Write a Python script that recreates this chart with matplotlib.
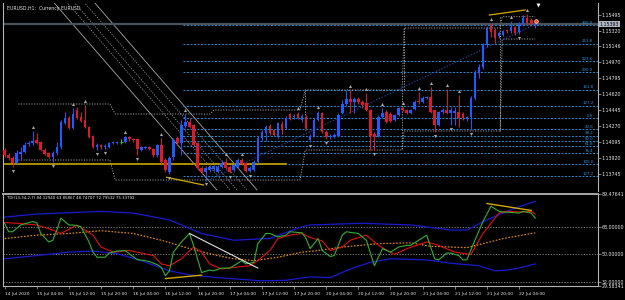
import matplotlib
matplotlib.use("Agg")
import matplotlib.pyplot as plt

# ---- EURUSD H1 candles (bar 0 = 14 Jul 2020 20:00) ----
opens = [
    1.14007, 1.13952, 1.13919, 1.13864, 1.13963, 1.13985, 1.14073, 1.14084, 1.14117, 1.14095,
    1.14007, 1.13974, 1.13930, 1.13974, 1.14040, 1.14304, 1.14359, 1.14249, 1.14447, 1.14370,
    1.14337, 1.14260, 1.14161, 1.14040, 1.14062, 1.14040, 1.14040, 1.14084, 1.14084, 1.14095,
    1.14095, 1.14150, 1.14128, 1.14128, 1.14007, 1.14029, 1.14040, 1.14018, 1.13952, 1.14062,
    1.13897, 1.13765, 1.13930, 1.14139, 1.14084, 1.14271, 1.14315, 1.14282, 1.14084, 1.13809,
    1.13765, 1.13787, 1.13798, 1.13765, 1.13820, 1.13875, 1.13820, 1.13787, 1.13820, 1.13897,
    1.13864, 1.13776, 1.13787, 1.13875, 1.14139, 1.14194, 1.14271, 1.14227, 1.14150, 1.14293,
    1.14249, 1.14403, 1.14370, 1.14403, 1.14337, 1.14370, 1.14117, 1.14161, 1.14337, 1.14414,
    1.14205, 1.14150, 1.14150, 1.14161, 1.14414, 1.14513, 1.14568, 1.14535, 1.14568, 1.14535,
    1.14524, 1.14447, 1.14183, 1.14161, 1.14370, 1.14425, 1.14403, 1.14337, 1.14392, 1.14469,
    1.14447, 1.14414, 1.14458, 1.14546, 1.14535, 1.14579, 1.14590, 1.14447, 1.14282, 1.14425,
    1.14447, 1.14414, 1.14414, 1.14425, 1.14403, 1.14348, 1.14370, 1.14579, 1.14865, 1.14920,
    1.15162, 1.15382, 1.15327, 1.15261, 1.15272, 1.15327, 1.15316, 1.15360, 1.15305, 1.15393,
    1.15459, 1.15437, 1.15382]
highs = [
    1.14029, 1.13974, 1.13941, 1.14007, 1.14040, 1.14095, 1.14106, 1.14216, 1.14194, 1.14106,
    1.14029, 1.13985, 1.13996, 1.14095, 1.14337, 1.14425, 1.14381, 1.14469, 1.14480, 1.14425,
    1.14502, 1.14271, 1.14172, 1.14084, 1.14073, 1.14073, 1.14095, 1.14106, 1.14106, 1.14128,
    1.14161, 1.14161, 1.14139, 1.14139, 1.14051, 1.14051, 1.14051, 1.14029, 1.14073, 1.14139,
    1.13919, 1.13941, 1.14139, 1.14161, 1.14337, 1.14403, 1.14359, 1.14293, 1.14095, 1.13831,
    1.13831, 1.13842, 1.13842, 1.13842, 1.13897, 1.13919, 1.13842, 1.13864, 1.13919, 1.13919,
    1.13875, 1.13831, 1.13897, 1.14161, 1.14227, 1.14282, 1.14293, 1.14238, 1.14315, 1.14326,
    1.14381, 1.14414, 1.14403, 1.14425, 1.14403, 1.14392, 1.14183, 1.14359, 1.14436, 1.14425,
    1.14227, 1.14183, 1.14194, 1.14414, 1.14557, 1.14667, 1.14667, 1.14590, 1.14590, 1.14557,
    1.14634, 1.14458, 1.14205, 1.14392, 1.14469, 1.14447, 1.14425, 1.14403, 1.14480, 1.14480,
    1.14458, 1.14458, 1.14557, 1.14645, 1.14601, 1.14601, 1.14700, 1.14458, 1.14436, 1.14469,
    1.14678, 1.14480, 1.14480, 1.14612, 1.14425, 1.14381, 1.14601, 1.14887, 1.14953, 1.15184,
    1.15371, 1.15404, 1.15349, 1.15316, 1.15327, 1.15338, 1.15426, 1.15371, 1.15415, 1.15492,
    1.15503, 1.15459, 1.15437]
lows = [
    1.13930, 1.13897, 1.13820, 1.13853, 1.13897, 1.13974, 1.14051, 1.14062, 1.14073, 1.13996,
    1.13952, 1.13919, 1.13875, 1.13952, 1.14018, 1.14293, 1.14238, 1.14238, 1.14348, 1.14315,
    1.14249, 1.14139, 1.14029, 1.14007, 1.14018, 1.14018, 1.14029, 1.14073, 1.14073, 1.14073,
    1.14084, 1.14106, 1.14095, 1.13952, 1.13996, 1.14018, 1.14007, 1.13930, 1.13930, 1.13853,
    1.13765, 1.13743, 1.13897, 1.14062, 1.13952, 1.14249, 1.14249, 1.14051, 1.13787, 1.13743,
    1.13677, 1.13765, 1.13776, 1.13754, 1.13809, 1.13787, 1.13754, 1.13765, 1.13809, 1.13842,
    1.13765, 1.13765, 1.13776, 1.13864, 1.14106, 1.14106, 1.14172, 1.14161, 1.14139, 1.14183,
    1.14238, 1.14337, 1.14348, 1.14348, 1.14315, 1.14227, 1.14095, 1.14150, 1.14326, 1.14194,
    1.14128, 1.14128, 1.14139, 1.14150, 1.14403, 1.14491, 1.14414, 1.14414, 1.14513, 1.14469,
    1.14436, 1.14007, 1.14007, 1.14150, 1.14359, 1.14304, 1.14315, 1.14326, 1.14381, 1.14436,
    1.14403, 1.14403, 1.14447, 1.14513, 1.14524, 1.14568, 1.14414, 1.14205, 1.14271, 1.14403,
    1.14403, 1.14282, 1.14282, 1.14260, 1.14337, 1.14326, 1.14227, 1.14557, 1.14799, 1.14898,
    1.15140, 1.15250, 1.15184, 1.15239, 1.15261, 1.15294, 1.15294, 1.15272, 1.15283, 1.15371,
    1.15393, 1.15382, 1.15349]
closes = [
    1.13952, 1.13919, 1.13864, 1.13974, 1.13985, 1.14062, 1.14084, 1.14106, 1.14084, 1.14007,
    1.13963, 1.13930, 1.13974, 1.14040, 1.14315, 1.14359, 1.14249, 1.14403, 1.14359, 1.14326,
    1.14260, 1.14150, 1.14040, 1.14062, 1.14040, 1.14051, 1.14084, 1.14095, 1.14095, 1.14095,
    1.14150, 1.14128, 1.14117, 1.14018, 1.14040, 1.14040, 1.14018, 1.13952, 1.14062, 1.13875,
    1.13787, 1.13919, 1.14117, 1.14084, 1.14282, 1.14315, 1.14260, 1.14062, 1.13809, 1.13765,
    1.13809, 1.13820, 1.13831, 1.13820, 1.13864, 1.13809, 1.13765, 1.13842, 1.13897, 1.13853,
    1.13776, 1.13809, 1.13875, 1.14139, 1.14205, 1.14260, 1.14194, 1.14172, 1.14304, 1.14227,
    1.14359, 1.14359, 1.14381, 1.14359, 1.14381, 1.14249, 1.14161, 1.14337, 1.14414, 1.14205,
    1.14150, 1.14161, 1.14172, 1.14392, 1.14513, 1.14568, 1.14535, 1.14568, 1.14535, 1.14502,
    1.14447, 1.14161, 1.14150, 1.14370, 1.14414, 1.14315, 1.14326, 1.14392, 1.14469, 1.14447,
    1.14414, 1.14447, 1.14535, 1.14535, 1.14579, 1.14590, 1.14425, 1.14282, 1.14425, 1.14447,
    1.14414, 1.14447, 1.14436, 1.14359, 1.14359, 1.14370, 1.14579, 1.14865, 1.14920, 1.15162,
    1.15349, 1.15305, 1.15239, 1.15294, 1.15316, 1.15316, 1.15360, 1.15294, 1.15404, 1.15459,
    1.15404, 1.15393, 1.15393]

bid = 1.15393

# fractal bars
up_fractals = [7, 17, 20, 30, 39, 45, 55, 59, 73, 78, 86, 90, 94, 99, 103, 106, 110, 113, 121, 126, 130]
down_fractals = [2, 12, 23, 25, 33, 41, 50, 56, 61, 76, 80, 92, 107, 111, 116, 128]

# fibonacci levels
fib_labels = ["300.0", "261.8", "223.6", "200.0", "161.8", "127.2", "0.0", "23.6",
              "38.2", "50.0", "61.8", "76.4", "100.0", "127.2"]
fib_prices = [1.15382, 1.15177, 1.14986, 1.14865, 1.14671, 1.14496, 1.14359, 1.14239,
              1.14165, 1.14106, 1.14047, 1.13973, 1.13853, 1.13716]
fib_start = 44.4

# parallel channel lines (bar, price) anchors
channel_solid = [[(11.7, 1.15657), (52.8, 1.13567)], [(21.8, 1.15657), (62.8, 1.13567)]]
channel_dotted = [[(15.0, 1.15657), (56.1, 1.13567)], [(16.8, 1.15657), (57.8, 1.13567)],
                  [(19.3, 1.15657), (60.3, 1.13567)]]

# zigzag box edges
box_top_x = [3.4, 26.2, 27.5, 51.1, 52.1, 73.5, 74.8, 98.9, 99.4, 123.3, 123.8, 132.0]
box_top_p = [1.14513, 1.14513, 1.14403, 1.14403, 1.14447, 1.14447, 1.14667, 1.14667,
             1.15349, 1.15349, 1.15473, 1.15473]
box_bot_x = [3.4, 26.2, 27.5, 73.5, 74.8, 98.9, 99.4, 123.3, 123.8, 132.0]
box_bot_p = [1.13897, 1.13897, 1.13677, 1.13677, 1.14007, 1.14007, 1.14216, 1.14216,
             1.15228, 1.15228]

support_price = 1.13850
fib_trend = [(50, 1.13662), (132, 1.15389)]
low_div = [(40.3, 1.13707), (49.5, 1.13622)]
high_div = [(120.6, 1.15492), (129.5, 1.15547)]

price_ticks = [1.15495, 1.15320, 1.15146, 1.14970, 1.14795, 1.14620, 1.14445,
               1.14270, 1.14095, 1.13920, 1.13745]

# ---- TDI (13,34,2,7) ----
green_x = [0, 1, 2, 4, 7, 8, 9, 11, 12, 13, 14, 16, 17, 19, 21, 22, 23, 25, 26, 28, 30, 31, 33, 35,
           36, 38, 39, 40, 41, 42, 44, 46, 47, 49, 51, 52, 54, 56, 57, 59, 60, 62, 63, 65, 66, 68,
           70, 71, 74, 75, 76, 78, 79, 81, 82, 84, 85, 88, 90, 92, 94, 96, 98, 100, 101, 103, 105,
           107, 108, 110, 111, 113, 114, 115, 117, 119, 121, 123, 124, 126, 128, 129, 131, 132]
green_v = [70.2, 64.7, 64.7, 69.1, 71.3, 70.6, 63.6, 58.1, 59.2, 65.8, 73.5, 69.1, 69.1, 68.0,
           58.1, 51.5, 48.2, 48.2, 50.9, 52.2, 52.6, 50.5, 46.7, 46.0, 45.4, 43.4, 41.6, 36.2,
           39.4, 51.5, 58.1, 63.6, 55.9, 38.3, 39.9, 39.4, 41.2, 41.2, 42.7, 46.0, 43.9, 44.9,
           57.0, 63.6, 63.6, 61.4, 62.5, 64.7, 64.0, 60.3, 53.8, 60.3, 52.6, 48.7, 49.3, 62.5,
           64.7, 63.6, 59.2, 42.7, 53.8, 51.5, 54.8, 55.9, 55.9, 59.2, 62.5, 47.2, 46.5, 50.9,
           50.9, 49.3, 46.5, 46.5, 59.2, 71.3, 81.2, 77.9, 77.5, 77.2, 76.8, 77.9, 76.8, 73.5]
red_x = [0, 3, 8, 12, 14, 18, 22, 24, 27, 31, 33, 37, 39, 41, 44, 47, 49, 51, 54, 57, 61, 63, 66,
         68, 71, 74, 76, 79, 81, 84, 86, 90, 93, 97, 100, 105, 108, 112, 116, 119, 123, 125, 129,
         131, 132]
red_v = [70.6, 70.2, 69.1, 65.8, 63.6, 69.1, 62.5, 54.8, 51.5, 52.6, 51.5, 49.3, 43.9, 42.7,
         47.2, 54.8, 51.5, 43.9, 40.6, 41.6, 42.7, 46.0, 52.6, 60.3, 62.5, 63.6, 61.0, 58.8,
         52.6, 54.8, 59.2, 62.5, 55.9, 50.0, 53.7, 58.1, 55.9, 51.5, 50.0, 63.6, 76.8, 77.9,
         77.5, 77.9, 76.2]
base_x = [0, 8, 16, 24, 32, 39, 46, 53, 57, 62, 68, 74, 77, 84, 93, 101, 106, 115, 119, 124, 132]
base_v = [60.3, 62.5, 63.6, 65.4, 63.6, 59.2, 53.8, 49.3, 47.2, 46.0, 48.2, 51.5, 52.2, 54.8,
          57.0, 57.5, 55.3, 54.4, 57.0, 60.3, 64.0]
upper_x = [0, 8, 24, 32, 41, 49, 57, 66, 74, 76, 89, 101, 111, 115, 120, 126, 132]
upper_v = [74.2, 76.2, 77.9, 76.8, 72.4, 63.6, 59.2, 60.4, 68.0, 69.1, 70.2, 69.1, 65.8, 65.8,
           72.4, 79.0, 84.5]
lower_x = [0, 8, 16, 22, 28, 34, 41, 46, 53, 64, 70, 76, 81, 86, 91, 96, 105, 111, 118, 122,
           125, 128, 132]
lower_v = [47.2, 49.3, 51.5, 52.2, 50.5, 46.0, 39.4, 36.8, 35.0, 32.9, 33.3, 35.5, 35.0, 40.6,
           44.9, 47.2, 46.5, 44.3, 42.7, 39.4, 39.9, 41.2, 43.9]
tdi_white = [(46, 63.6), (63, 41.2)]
tdi_yellow = [[(40, 34.4), (49, 36.6)], [(120, 83.0), (131, 78.5)]]
tdi_levels = [68, 50, 32]
tdi_ticks = [89.47641, 68.0, 50.0, 32.0, 29.58341]
tdi_tick_labels = ["89.47641", "68.00000", "50.00000", "32.00000", "29.58341"]

date_pos = list(range(0, 129, 8))
date_labels = ["14 Jul 2020", "15 Jul 04:00", "15 Jul 12:00", "15 Jul 20:00", "16 Jul 04:00",
               "16 Jul 12:00", "16 Jul 20:00", "17 Jul 04:00", "17 Jul 12:00", "17 Jul 20:00",
               "20 Jul 04:00", "20 Jul 12:00", "20 Jul 20:00", "21 Jul 04:00", "21 Jul 12:00",
               "21 Jul 20:00", "22 Jul 04:00"]

BULL = "#1f5cff"
BEAR = "#e0182c"
FRAME = "#b4b4b4"
TXT = "#e6e6e6"
FS_AX = 3.4
FS_DATE = 3.2
FS_SMALL = 2.8

fig = plt.figure(figsize=(6.25, 3.0), dpi=100, facecolor="black")
ax = fig.add_axes([3 / 625, 1 - 191 / 300, 594.5 / 625, 188 / 300], facecolor="black")
ax2 = fig.add_axes([3 / 625, 1 - 286 / 300, 594.5 / 625, 92.5 / 300], facecolor="black", sharex=ax)

x_min, x_max = -0.4, 147.5
ax.set_xlim(x_min, x_max)
ax.set_ylim(1.13556, 1.15624)
ax2.set_ylim(29.58341, 89.47641)

# channel lines
for ln in channel_solid:
    ax.plot([ln[0][0], ln[1][0]], [ln[0][1], ln[1][1]], color="#a8a8a8", lw=0.6, zorder=1)
for ln in channel_dotted:
    ax.plot([ln[0][0], ln[1][0]], [ln[0][1], ln[1][1]], color="#8a8a8a", lw=0.6,
            ls=(0, (1.5, 1.5)), zorder=1)

# fib levels
for lab, p in zip(fib_labels, fib_prices):
    ax.plot([fib_start, x_max], [p, p], color="#1e8fd6", lw=0.7, ls=(0, (2, 1.6)), zorder=1)
    ax.text(0.993, p + 0.00003, lab, transform=ax.get_yaxis_transform(), ha="right", va="bottom",
            fontsize=FS_SMALL, color="#2a98e4")

# zigzag boxes
dots = dict(color="#a0a0a0", lw=0.7, ls=(0, (1.2, 1.5)), zorder=1)
ax.plot(box_top_x, box_top_p, **dots)
ax.plot(box_bot_x, box_bot_p, **dots)
ax.plot([98.9, 98.9], [1.14667, 1.14007], **dots)
ax.plot([99.4, 99.4], [1.15349, 1.14667], **dots)
ax.plot([123.3, 123.3], [1.15473, 1.14216], **dots)
ax.plot([74.8, 74.8], [1.14667, 1.14227], **dots)

# bid line
ax.axhline(bid, color="#4a525a", lw=1.6, zorder=1)

# support and trend lines
ax.plot([0, 70], [support_price, support_price], color="#b89a00", lw=1.3, zorder=2)
ax.plot([fib_trend[0][0], fib_trend[1][0]], [fib_trend[0][1], fib_trend[1][1]],
        color="#1848a8", lw=0.8, ls=(0, (1.2, 1.5)), zorder=1)
ax.plot([low_div[0][0], low_div[1][0]], [low_div[0][1], low_div[1][1]], color="#d4a800", lw=0.9)
ax.plot([high_div[0][0], high_div[1][0]], [high_div[0][1], high_div[1][1]], color="#d4a800", lw=0.9)

# candles
for i in range(len(opens)):
    o, h, l, c = opens[i], highs[i], lows[i], closes[i]
    if c > o:
        col = BULL
    elif c < o:
        col = BEAR
    else:
        col = "#30c030"
    ax.vlines(i, l, h, color=col, lw=0.7, zorder=3)
    if c == o:
        ax.hlines(o, i - 0.35, i + 0.35, color=col, lw=0.8, zorder=3)
    else:
        ax.bar(i, abs(c - o), bottom=min(o, c), width=0.66, color=col, lw=0, zorder=3)

# fractals
ax.scatter(up_fractals, [highs[i] + 0.00045 for i in up_fractals], marker="^", s=5,
           color="#a8a8a8", lw=0, zorder=4)
ax.scatter(down_fractals, [lows[i] - 0.00045 for i in down_fractals], marker="v", s=5,
           color="#a8a8a8", lw=0, zorder=4)

# current price marker and shift marker
ax.scatter([132.2], [1.15430], marker="o", s=7, color="#ff5020", edgecolors="white", lw=0.4, zorder=5)
ax.scatter([132.6], [1.15600], marker="v", s=8, color="white", lw=0, zorder=5)

# axis styling, main
ax.yaxis.tick_right()
ax.set_yticks(price_ticks)
ax.set_yticklabels([f"{p:.5f}" for p in price_ticks])
ax.tick_params(axis="y", length=2, width=0.5, pad=1, labelsize=FS_AX, colors=FRAME, labelcolor=TXT)
ax.tick_params(axis="x", bottom=False, labelbottom=False)
for s in ["top", "bottom"]:
    ax.spines[s].set_visible(False)
for s in ["left", "right"]:
    ax.spines[s].set_color(FRAME)
    ax.spines[s].set_linewidth(0.8)
ax.text(0.006, 0.985, "EURUSD,H1:  Currency EURUSD", transform=ax.transAxes, ha="left", va="top",
        fontsize=3.3, color=TXT)
ax.text(1.004, bid, f"{bid:.5f}", transform=ax.get_yaxis_transform(), ha="left", va="center",
        fontsize=FS_AX, color="black",
        bbox=dict(boxstyle="square,pad=0.12", fc="#aeb8c4", ec="none"), zorder=6)

# ---- TDI panel ----
for lv in tdi_levels:
    ax2.axhline(lv, color="#8c8c8c", lw=0.6, ls=(0, (1.5, 1.8)))
ax2.plot(upper_x, upper_v, color="#1a1ad0", lw=0.9)
ax2.plot(lower_x, lower_v, color="#1a1ad0", lw=0.9)
ax2.plot(base_x, base_v, color="#e08a00", lw=0.9, ls=(0, (1.3, 1.3)))
ax2.plot(red_x, red_v, color="#e01010", lw=0.8)
ax2.plot(green_x, green_v, color="#30b030", lw=0.8)
ax2.plot([tdi_white[0][0], tdi_white[1][0]], [tdi_white[0][1], tdi_white[1][1]], color="#e0e0e0", lw=0.8)
for ln in tdi_yellow:
    ax2.plot([ln[0][0], ln[1][0]], [ln[0][1], ln[1][1]], color="#d4a800", lw=1.0)

ax2.yaxis.tick_right()
ax2.set_yticks(tdi_ticks)
ax2.set_yticklabels(tdi_tick_labels)
ax2.tick_params(axis="y", length=2, width=0.5, pad=1, labelsize=FS_AX, colors=FRAME, labelcolor=TXT)
ax2.set_xticks(date_pos)
ax2.set_xticklabels(date_labels, ha="left")
ax2.tick_params(axis="x", length=2.5, width=0.5, pad=1.5, labelsize=FS_DATE, colors=FRAME, labelcolor=TXT)
for s in ax2.spines.values():
    s.set_color(FRAME)
    s.set_linewidth(0.8)
ax2.spines["top"].set_linewidth(1.3)
ax2.text(0.006, 0.97, "TDI(13,34,2,7) 84.12940 63.85867 48.74707 72.79532 75.33792",
         transform=ax2.transAxes, ha="left", va="top", fontsize=FS_SMALL, color=TXT)

fig.savefig("out.png", dpi=100, facecolor="black")
